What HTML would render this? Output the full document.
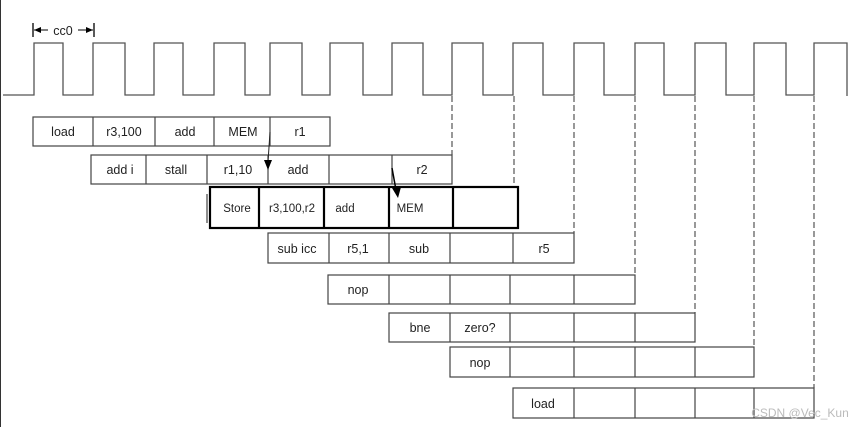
<!DOCTYPE html>
<html><head><meta charset="utf-8"><style>
body{margin:0;background:#fff;}
svg{display:block}
text{font-family:"Liberation Sans",sans-serif;font-size:12.5px;fill:#222;text-anchor:middle}
</style></head><body>
<svg width="864" height="427" viewBox="0 0 864 427" xmlns="http://www.w3.org/2000/svg">
<rect width="864" height="427" fill="#fff"/>
<!-- left border line -->
<line x1="0.5" y1="0" x2="0.5" y2="427" stroke="#333" stroke-width="1"/>
<!-- clock -->
<path d="M3 95 H34 V43 H63 V95 H93 V43 H125 V95 H154 V43 H183 V95 H214 V43 H245 V95 H270 V43 H302 V95 H330 V43 H363 V95 H392 V43 H423 V95 H452 V43 H483 V95 H513 V43 H543 V95 H574 V43 H604 V95 H635 V43 H664 V95 H695 V43 H726 V95 H754 V43 H786 V95 H814 V43 H847 V96" fill="none" stroke="#555" stroke-width="1.3"/>
<!-- cc0 -->
<line x1="33" y1="23" x2="33" y2="37" stroke="#000" stroke-width="1.3"/>
<line x1="94" y1="23" x2="94" y2="37" stroke="#000" stroke-width="1.3"/>
<line x1="34" y1="30" x2="48" y2="30" stroke="#000"/>
<polygon points="34,30 41,27 41,33" fill="#000"/>
<line x1="78" y1="30" x2="93" y2="30" stroke="#000"/>
<polygon points="93,30 86,27 86,33" fill="#000"/>
<text x="63" y="35">cc0</text>
<!-- dashed lines -->
<g stroke="#555" stroke-width="1.2" stroke-dasharray="6,3">
<line x1="452" y1="96" x2="452" y2="155"/>
<line x1="514" y1="96" x2="514" y2="187"/>
<line x1="574" y1="96" x2="574" y2="233"/>
<line x1="635" y1="96" x2="635" y2="275"/>
<line x1="695" y1="96" x2="695" y2="313"/>
<line x1="754" y1="96" x2="754" y2="347"/>
<line x1="814" y1="96" x2="814" y2="388"/>
</g>
<g fill="none" stroke="#444" stroke-width="1.2">
<!-- row1 -->
<rect x="33" y="117" width="297" height="29"/>
<path d="M93 117V146M155 117V146M214 117V146M270 117V146"/>
<!-- row2 -->
<rect x="91" y="155" width="361" height="29"/>
<path d="M146 155V184M207 155V184M268 155V184M329 155V184M392 155V184"/>
<!-- row4 -->
<rect x="268" y="233" width="306" height="30"/>
<path d="M329 233V263M389 233V263M450 233V263M513 233V263"/>
<!-- row5 -->
<rect x="328" y="275" width="307" height="29"/>
<path d="M389 275V304M450 275V304M510 275V304M574 275V304"/>
<!-- row6 -->
<rect x="389" y="313" width="306" height="29"/>
<path d="M450 313V342M510 313V342M574 313V342M635 313V342"/>
<!-- row7 -->
<rect x="450" y="347" width="304" height="30"/>
<path d="M510 347V377M574 347V377M635 347V377M695 347V377"/>
<!-- row8 -->
<rect x="513" y="388" width="301" height="30"/>
<path d="M574 388V418M635 388V418M695 388V418M754 388V418"/>
<line x1="207" y1="194" x2="207" y2="223"/>
</g>
<!-- row3 bold -->
<g fill="none" stroke="#000" stroke-width="2.2">
<rect x="210" y="187" width="308" height="41"/>
<path d="M259 187V228M324 187V228M389 187V228M453 187V228"/>
</g>
<!-- arrows -->
<line x1="270" y1="132" x2="268" y2="162" stroke="#222" stroke-width="1"/>
<polygon points="264,160 272,160 268,170" fill="#000"/>
<line x1="392" y1="168" x2="396" y2="190" stroke="#000" stroke-width="1.5"/>
<polygon points="392,188 401,187 398,198" fill="#000"/>
<!-- labels -->
<text x="63" y="136">load</text><text x="124" y="136">r3,100</text><text x="185" y="136">add</text><text x="243" y="136">MEM</text><text x="300" y="136">r1</text>
<text x="120" y="174">add i</text><text x="176" y="174">stall</text><text x="238" y="174">r1,10</text><text x="298" y="174">add</text><text x="422" y="174">r2</text>
<text x="237" y="212" style="font-size:11.5px">Store</text><text x="292" y="212" style="font-size:11.5px">r3,100,r2</text><text x="345" y="212" style="font-size:11.5px">add</text><text x="410" y="212" style="font-size:11.5px">MEM</text>
<text x="297" y="253">sub icc</text><text x="358" y="253">r5,1</text><text x="419" y="253">sub</text><text x="544" y="253">r5</text>
<text x="358" y="294">nop</text>
<text x="420" y="332">bne</text><text x="480" y="332">zero?</text>
<text x="480" y="367">nop</text>
<text x="543" y="408">load</text>
<text x="800" y="417" style="font-size:12px;fill:#bbb">CSDN @Vec_Kun</text>
</svg>
</body></html>
